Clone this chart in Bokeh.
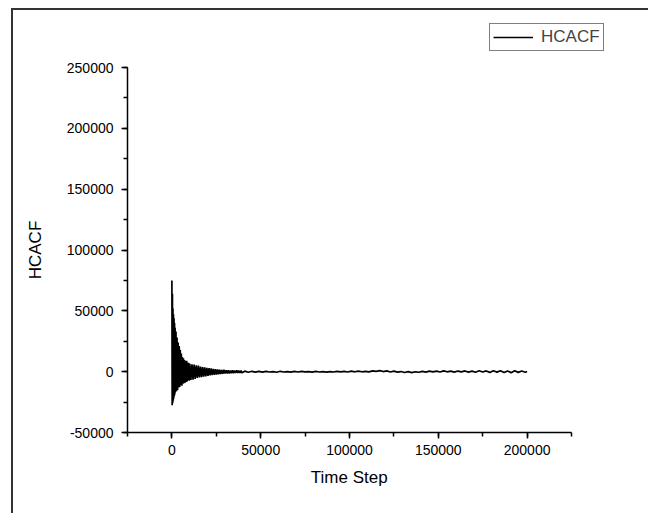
from bokeh.plotting import figure
from bokeh.models import (SingleIntervalTicker, Legend, LegendItem, Title,
                          Range1d, NumeralTickFormatter)
from bokeh.embed import file_html
from bokeh.resources import INLINE

# ---- data ----
time_step = [
    0, 150, 300, 450, 600, 750, 900, 1050, 1200, 1350, 1500, 1650, 1800, 1950,
    2300, 2600, 2900, 3200, 3500, 3800, 4100, 4400, 4700, 5000, 5300, 5600, 5900,
    6200, 6500, 6800, 7100, 7400, 7700, 8000, 8300, 8600, 8900, 9200, 9500, 9800,
    10100, 10700, 11300, 11900, 12500, 13100, 13700, 14300, 14900, 15500, 16100,
    16700, 17300, 17900, 18500, 19100, 19700, 20300, 20900, 21500, 22100, 22700,
    23300, 23900, 24500, 25100, 25700, 26300, 26900, 27500, 28100, 28700, 29300,
    29900, 30500, 31100, 31700, 32300, 32900, 33500, 34100, 34700, 35300, 35900,
    36500, 37100, 37700, 38300, 38900, 39500,
    41000, 43000, 45000, 47000, 49000, 51000, 53000, 55000, 57000, 59000, 61000,
    63000, 65000, 67000, 69000, 71000, 73000, 75000, 77000, 79000, 81000, 83000,
    85000, 87000, 89000, 91000, 93000, 95000, 97000, 99000, 101000, 103000, 105000,
    107000, 109000, 111000, 113000, 115000, 117000, 119000, 121000, 123000, 125000,
    127000, 129000, 131000, 133000, 135000, 137000, 139000, 141000, 143000, 145000,
    147000, 149000, 151000, 153000, 155000, 157000, 159000, 161000, 163000, 165000,
    167000, 169000, 171000, 173000, 175000, 177000, 179000, 181000, 183000, 185000,
    187000, 189000, 191000, 193000, 195000, 197000, 199000, 200000,
]
hcacf = [
    75000, -27500, 64000, -26000, 52000, -24000, 47000, -22000, 44000, -20000,
    40000, -18500, 36000, -17000,
    33000, -16000, 28000, -15000, 24000, -13000, 21000, -12500, 18000, -11000,
    15000, -11500, 12000, -10000, 11000, -9500, 9500, -9000, 8500, -8500, 9000,
    -8000, 7500, -7000, 7000, -7500,
    6500, -6800, 6000, -6500, 5800, -6000, 5200, -5200, 5000, -4800, 4200, -4500,
    3800, -4200, 3600, -3800, 3200, -3500, 3000, -3000, 2600, -2800, 2200, -2600,
    2000, -2300, 1800, -2200, 1600, -2000, 1400, -1800, 1500, -1600, 1200, -1500,
    1100, -1400, 1000, -1300, 1200, -1200, 900, -1100, 1000, -1000, 800, -1100,
    900, -900,
    400, -500, 300, -400, 300, -400, 300, -300, 100, -500, 300, -300, 100, -400,
    200, -300, 300, -200, 100, -400, 200, -300, 100, -400, 100, -300, 300, -100,
    200, -300, 400, -100, 500, -100, 300, -200, 700, 200, 800, 100, 600, -300,
    400, -400, 100, -700, 0, -800, -100, -500, 200, -400, 400, -200, 500, -300,
    600, -100, 400, -400, 500, -200, 600, -400, 400, -500, 700, -300, 600,
    -600, 800, -400, 800, -700, 600, -800, 700, -600, 500, -500, 100,
]
series_name = "HCACF"
x_label = "Time Step"
y_label = "HCACF"
x_axis_span = (-25000, 225000)
y_axis_span = (-50000, 250000)

FONT = "Liberation Sans"
W, H = 648, 513
LEFT, BOTTOM = 127, 81          # axes positions (px)
AX_W, AX_H = 444, 365           # drawn axis lengths (px)
TOP, RIGHT = 16, 8              # frame extended so the legend fits inside it

fw = W - LEFT - RIGHT
fh = H - TOP - BOTTOM
x_per_px = (x_axis_span[1] - x_axis_span[0]) / AX_W
y_per_px = (y_axis_span[1] - y_axis_span[0]) / AX_H

p = figure(width=W, height=H, output_backend="svg", toolbar_location=None,
           x_range=Range1d(x_axis_span[0], x_axis_span[0] + fw * x_per_px),
           y_range=Range1d(y_axis_span[0], y_axis_span[0] + fh * y_per_px),
           min_border_left=LEFT, min_border_right=RIGHT, min_border_top=TOP,
           min_border_bottom=BOTTOM)
p.outline_line_color = None
p.grid.visible = False
p.background_fill_color = "white"
p.border_fill_alpha = 0
# outer frame of the exported picture (top and left edges)
p.styles = {
    "background": ("linear-gradient(#333,#333) 11px 8px / 100% 2px no-repeat, "
                   "linear-gradient(#333,#333) 11px 8px / 2px 100% no-repeat, white"),
}

r = p.line(time_step, hcacf, line_color="black", line_width=1.7)

for ax, span in ((p.xaxis[0], x_axis_span), (p.yaxis[0], y_axis_span)):
    ax.bounds = span
    ax.ticker = SingleIntervalTicker(interval=50000, num_minor_ticks=2)
    ax.formatter = NumeralTickFormatter(format="0")
    ax.axis_line_color = "black"
    ax.axis_line_width = 1.5
    ax.major_tick_line_color = "black"
    ax.major_tick_line_width = 1.5
    ax.minor_tick_line_color = "black"
    ax.minor_tick_line_width = 1.5
    ax.major_tick_in = 0
    ax.major_tick_out = 6
    ax.minor_tick_in = 0
    ax.minor_tick_out = 4
    ax.major_label_text_font = FONT
    ax.major_label_text_font_size = "14px"
    ax.major_label_text_color = "black"

p.xaxis.major_label_standoff = 6
p.yaxis.major_label_standoff = 8

# axis titles placed below / left of the axes, centred on the drawn axis span
LBL_PX = 17
xt_width = 4.557 * LBL_PX
yt_width = 3.444 * LBL_PX
x_off = AX_W / 2 - xt_width / 2
y_off = AX_H / 2 - yt_width / 2
xt = Title(text=x_label, align="left", offset=x_off, standoff=17,
           text_font=FONT, text_font_size=f"{LBL_PX}px", text_font_style="normal",
           text_color="black")
yt = Title(text=y_label, align="left", offset=y_off, standoff=38,
           text_font=FONT, text_font_size=f"{LBL_PX}px", text_font_style="normal",
           text_color="black")
p.add_layout(xt, "below")
p.add_layout(yt, "left")

legend = Legend(items=[LegendItem(label=series_name, renderers=[r])],
                location=(362, 381), orientation="vertical",
                border_line_color="black", border_line_width=1,
                background_fill_color="white", background_fill_alpha=1,
                label_text_font=FONT, label_text_font_size="17px",
                padding=3, spacing=0, margin=0, label_standoff=8,
                glyph_width=40, glyph_height=16, label_height=16)
p.add_layout(legend, "center")

open("out.html", "w").write(file_html(p, INLINE))
